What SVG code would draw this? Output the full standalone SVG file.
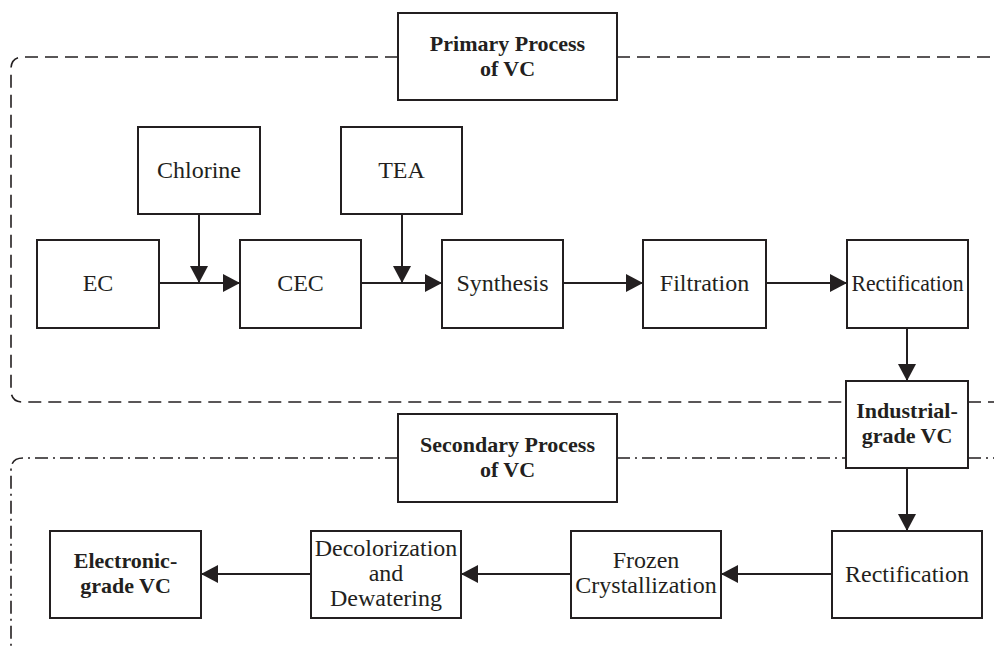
<svg xmlns="http://www.w3.org/2000/svg" width="994" height="646" viewBox="0 0 994 646">
<style>
.box{fill:#fff;stroke:#231f20;stroke-width:2}
.t{font-family:"Liberation Serif","Times New Roman",serif;font-size:24px;fill:#231f20;text-anchor:middle}
.b{font-family:"Liberation Serif","Times New Roman",serif;font-size:22px;font-weight:bold;fill:#231f20;text-anchor:middle}
.c{stroke:#231f20;stroke-width:2;fill:none;marker-end:url(#ah)}
.dash{fill:none;stroke:#231f20;stroke-width:1.6;stroke-dasharray:13 7}
.dd{fill:none;stroke:#231f20;stroke-width:1.6;stroke-dasharray:13 5 2 5}
</style>
<defs>
<marker id="ah" markerUnits="userSpaceOnUse" markerWidth="18" markerHeight="18" viewBox="0 0 18 18" refX="17" refY="9" orient="auto">
<path d="M0,0 L17,9 L0,18 Z" fill="#231f20"/>
</marker>
</defs>
<rect width="994" height="646" fill="#fff"/>
<g id="frames">
<path class="dash" d="M398,57 H23 Q11,57 11,69 V390 Q11,402 23,402 H846"/>
<path class="dash" d="M617,57 H994"/>
<path class="dash" d="M968,402 H994"/>
<path class="dd" d="M398,458 H23 Q11,458 11,470 V646"/>
<path class="dd" d="M617,458 H846"/>
<path class="dd" d="M968,458 H994"/>
</g>
<g id="connectors">
<line class="c" x1="159" y1="283" x2="240" y2="283"/>
<line class="c" x1="199" y1="214" x2="199" y2="283"/>
<line class="c" x1="361" y1="283" x2="442" y2="283"/>
<line class="c" x1="402" y1="214" x2="402" y2="283"/>
<line class="c" x1="563" y1="283" x2="643" y2="283"/>
<line class="c" x1="766" y1="283" x2="847" y2="283"/>
<line class="c" x1="907" y1="328" x2="907" y2="381"/>
<line class="c" x1="907" y1="468" x2="907" y2="531"/>
<line class="c" x1="832" y1="574" x2="721" y2="574"/>
<line class="c" x1="571" y1="574" x2="461" y2="574"/>
<line class="c" x1="311" y1="574" x2="201" y2="574"/>
</g>
<g id="primary"><rect class="box" x="398" y="13" width="219" height="87"/><text class="b" x="507.5" y="51">Primary Process</text><text class="b" x="507.5" y="76">of VC</text></g>
<g id="secondary"><rect class="box" x="398" y="414" width="219" height="88"/><text class="b" x="507.5" y="452">Secondary Process</text><text class="b" x="507.5" y="477">of VC</text></g>
<g id="chlorine"><rect class="box" x="138" y="127" width="122" height="87"/><text class="t" x="199" y="178">Chlorine</text></g>
<g id="tea"><rect class="box" x="341" y="127" width="121" height="87"/><text class="t" x="401.5" y="178">TEA</text></g>
<g id="ec"><rect class="box" x="37" y="240" width="122" height="88"/><text class="t" x="98" y="291">EC</text></g>
<g id="cec"><rect class="box" x="240" y="240" width="121" height="88"/><text class="t" x="300.5" y="291">CEC</text></g>
<g id="synthesis"><rect class="box" x="442" y="240" width="121" height="88"/><text class="t" x="502.5" y="291">Synthesis</text></g>
<g id="filtration"><rect class="box" x="643" y="240" width="123" height="88"/><text class="t" x="704.5" y="291">Filtration</text></g>
<g id="rectification1"><rect class="box" x="847" y="240" width="121" height="88"/><text class="t" x="907.5" y="291" textLength="112" lengthAdjust="spacingAndGlyphs">Rectification</text></g>
<g id="industrial"><rect class="box" x="846" y="381" width="122" height="87"/><text class="b" x="907" y="418">Industrial-</text><text class="b" x="907" y="443">grade VC</text></g>
<g id="rectification2"><rect class="box" x="832" y="531" width="150" height="87"/><text class="t" x="907" y="582">Rectification</text></g>
<g id="frozen"><rect class="box" x="571" y="531" width="150" height="87"/><text class="t" x="646" y="568">Frozen</text><text class="t" x="646" y="593">Crystallization</text></g>
<g id="decolorization"><rect class="box" x="311" y="531" width="150" height="87"/><text class="t" x="386" y="556">Decolorization</text><text class="t" x="386" y="581">and</text><text class="t" x="386" y="606">Dewatering</text></g>
<g id="electronic"><rect class="box" x="50" y="531" width="151" height="87"/><text class="b" x="125.5" y="568">Electronic-</text><text class="b" x="125.5" y="593">grade VC</text></g>
</svg>
